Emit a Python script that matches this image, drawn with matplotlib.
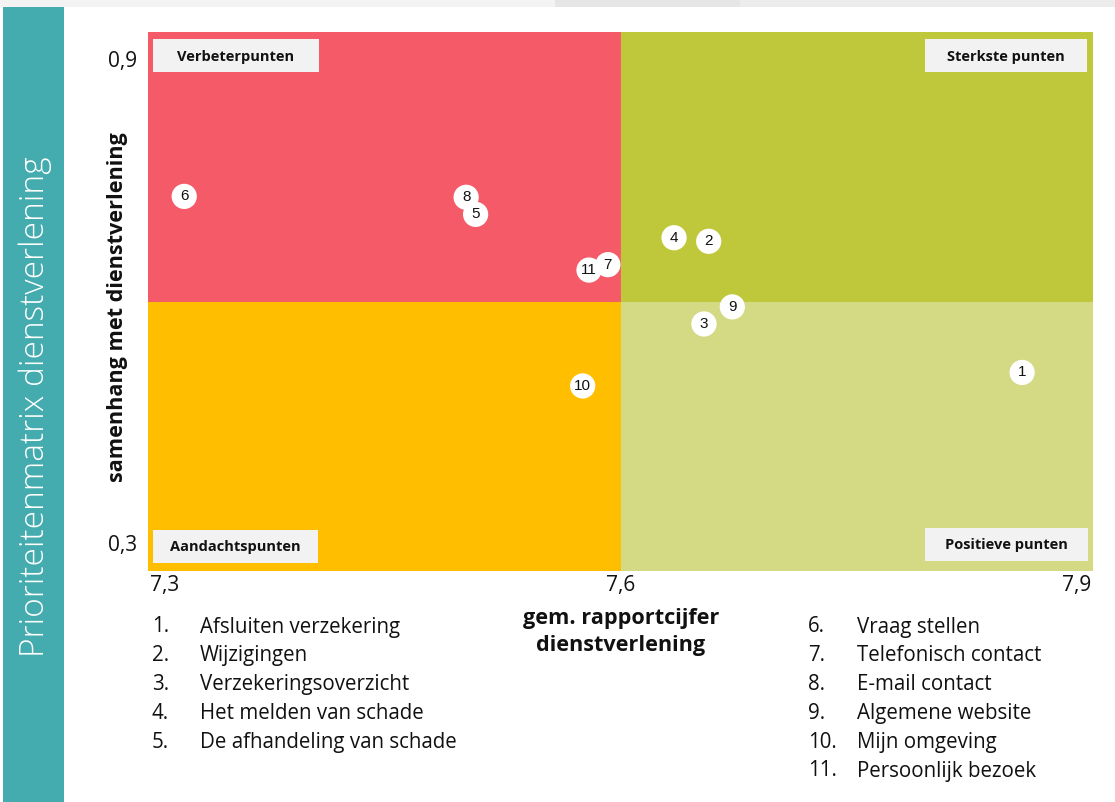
import matplotlib
matplotlib.use("Agg")
import matplotlib.pyplot as plt
from matplotlib.patches import Rectangle
from matplotlib.transforms import ScaledTranslation

# ---- data ----
ids = [1, 2, 3, 4, 5, 6, 7, 8, 9, 10, 11]
rapportcijfer = [7.855, 7.656, 7.653, 7.634, 7.508, 7.323, 7.592, 7.502, 7.671, 7.576, 7.580]
samenhang = [0.521, 0.667, 0.575, 0.671, 0.697, 0.717, 0.641, 0.716, 0.594, 0.506, 0.635]
names = ["Afsluiten verzekering", "Wijzigingen", "Verzekeringsoverzicht",
         "Het melden van schade", "De afhandeling van schade", "Vraag stellen",
         "Telefonisch contact", "E-mail contact", "Algemene website",
         "Mijn omgeving", "Persoonlijk bezoek"]
x_min, x_mid, x_max = 7.3, 7.6, 7.9
y_min, y_mid, y_max = 0.3, 0.6, 0.9
x_ticklabels = ["7,3", "7,6", "7,9"]
y_ticklabels = ["0,3", "0,9"]
quadrant_labels = ["Verbeterpunten", "Sterkste punten", "Aandachtspunten", "Positieve punten"]

W, H = 1115, 802
fig = plt.figure(figsize=(W / 100, H / 100), dpi=100)
fig.patch.set_facecolor("white")

def fx(px):
    return px / W

def fy(py):
    return 1 - py / H

def frect(x0, y0, x1, y1, color, z=1):
    fig.patches.append(Rectangle((fx(x0), fy(y1)), (x1 - x0) / W, (y1 - y0) / H,
                                 transform=fig.transFigure, facecolor=color,
                                 edgecolor="none", zorder=z))

# top gray strip
frect(0, 0, 1115, 7, "#f3f3f3", 0)
frect(555, 0, 740, 7, "#e6e6e6", 0)
frect(740, 0, 1115, 7, "#ececec", 0)
# teal side bar
frect(3, 7, 64, 802, "#44abae", 1)
fig.text(fx(35), fy(407), "Prioriteitenmatrix dienstverlening", rotation=90,
         ha="center", va="center", color="white", fontsize=24,
         family="Open Sans", fontweight="light")

ax = fig.add_axes([fx(148), fy(571), (1093 - 148) / W, (571 - 32) / H])
ax.set_xlim(x_min, x_max)
ax.set_ylim(y_min, y_max)
for s in ax.spines.values():
    s.set_visible(False)
ax.set_xticks([])
ax.set_yticks([])

# quadrants
for (x0, y0, w, h, c) in [(x_min, y_mid, x_mid - x_min, y_max - y_mid, "#f55a69"),
                          (x_mid, y_mid, x_max - x_mid, y_max - y_mid, "#bfc83a"),
                          (x_min, y_min, x_mid - x_min, y_mid - y_min, "#ffbf00"),
                          (x_mid, y_min, x_max - x_mid, y_mid - y_min, "#d4da84")]:
    ax.add_patch(Rectangle((x0, y0), w, h, facecolor=c, edgecolor=c, linewidth=0.8, zorder=0))

# quadrant labels (boxes in figure pixel space)
lab_kw = dict(fontsize=10.5, fontweight="bold", family="Open Sans", color="#111111",
              ha="center", va="center", zorder=6)
boxes = [(153, 39, 319, 72), (925, 39, 1087, 72), (153, 530, 318, 563), (925, 528, 1088, 561)]
for (x0, y0, x1, y1), lab in zip(boxes, quadrant_labels):
    frect(x0, y0, x1, y1, "#f2f2f2", 5)
    fig.text(fx((x0 + x1) / 2), fy((y0 + y1) / 2 + 1), lab, **lab_kw)

# points
ax.scatter(rapportcijfer, samenhang, s=330, color="white", edgecolor="none", zorder=3)
for i, xv, yv in zip(ids, rapportcijfer, samenhang):
    ax.text(xv, yv, str(i), ha="center", va="center", fontsize=11,
            family="Liberation Sans", color="#111111", zorder=4)

# tick labels
tick_kw = dict(fontsize=15, family="Open Sans", color="#111111")
ax.text(x_min, y_min, x_ticklabels[0], ha="left", va="top", **tick_kw,
        transform=ax.transData + ScaledTranslation(0.02, -0.04, fig.dpi_scale_trans))
ax.text(x_mid, y_min, x_ticklabels[1], ha="center", va="top", **tick_kw,
        transform=ax.transData + ScaledTranslation(0, -0.04, fig.dpi_scale_trans))
ax.text(x_max, y_min, x_ticklabels[2], ha="right", va="top", **tick_kw,
        transform=ax.transData + ScaledTranslation(-0.02, -0.04, fig.dpi_scale_trans))
ax.text(x_min, y_max, y_ticklabels[1], ha="right", va="center", **tick_kw,
        transform=ax.transData + ScaledTranslation(-0.11, -0.29, fig.dpi_scale_trans))
ax.text(x_min, y_min, y_ticklabels[0], ha="right", va="center", **tick_kw,
        transform=ax.transData + ScaledTranslation(-0.11, 0.26, fig.dpi_scale_trans))

# axis titles
fig.text(fx(118), fy(307), "samenhang met dienstverlening", rotation=90, ha="center", va="center",
         fontsize=15.6, fontweight="bold", family="Open Sans", color="#111111")
fig.text(fx(621), fy(632), "gem. rapportcijfer\ndienstverlening", ha="center", va="center",
         fontsize=15.6, fontweight="bold", family="Open Sans", color="#111111", linespacing=1.4)

# legend lists
list_kw = dict(fontsize=14.8, family="Open Sans", color="#111111", va="center")
row = 28.8
for k in range(5):
    y = fy(627 + k * row)
    fig.text(fx(152), y, f"{ids[k]}.", ha="left", **list_kw)
    fig.text(fx(200), y, names[k], ha="left", **list_kw)
for k in range(5, 11):
    y = fy(627 + (k - 5) * row)
    fig.text(fx(808), y, f"{ids[k]}.", ha="left", **list_kw)
    fig.text(fx(857), y, names[k], ha="left", **list_kw)

fig.savefig("out.png", dpi=100)
